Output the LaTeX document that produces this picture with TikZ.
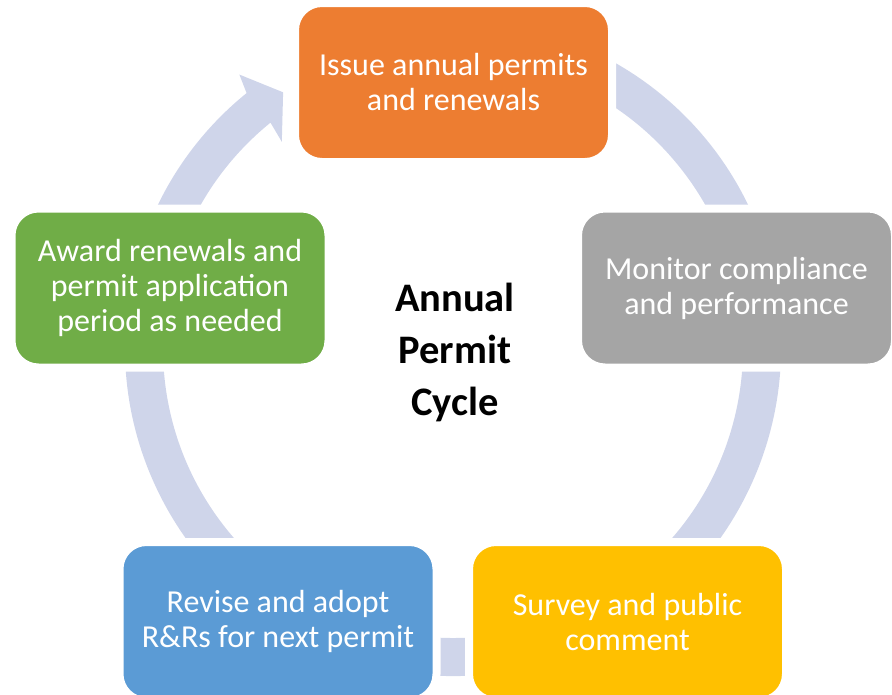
\documentclass[tikz,border=0pt]{standalone}
\usepackage{fontspec}
\setmainfont{Carlito}

\definecolor{ringblue}{RGB}{207,213,234}
\definecolor{issueorange}{RGB}{237,125,49}
\definecolor{monitorgray}{RGB}{165,165,165}
\definecolor{surveyyellow}{RGB}{255,192,0}
\definecolor{reviseblue}{RGB}{91,155,213}
\definecolor{awardgreen}{RGB}{112,173,71}

\begin{document}
\begin{tikzpicture}[x=1pt, y=-1pt,
    stage/.style={rounded corners=27pt, draw=white, line width=8pt,
      minimum width=317pt, minimum height=159pt, inner sep=0pt,
      text=white, align=center, font=\fontsize{32}{35}\selectfont}]
  \useasboundingbox (0,0) rectangle (892,694);
  % ring behind the stages, with the head pointing into the top box
  \fill[ringblue, shift={(453,348)}] (-115:328) arc[start angle=-115, end angle=231, radius=328]
    -- (232:347) -- (236.4:307) -- (230.3:268) -- (231:290)
    arc[start angle=231, end angle=-115, radius=290] -- cycle;
  % stages
  \node[stage, fill=issueorange] (issue) at (453.5,82.5) {Issue annual permits\\and renewals};
  \node[stage, fill=monitorgray] (monitor) at (736.5,288) {Monitor compliance\\and performance};
  \node[stage, fill=surveyyellow] (survey) at (627.5,621.5) {Survey and public\\comment};
  \node[stage, fill=reviseblue] (revise) at (278,621.5) {Revise and adopt\\R\&Rs for next permit};
  \node[stage, fill=awardgreen] (award) at (170,288) {Award renewals and\\permit application\\period as needed};
  \node[font=\bfseries\fontsize{40.5}{52}\selectfont, align=center] (title) at (455,352) {Annual\\Permit\\Cycle};
\end{tikzpicture}
\end{document}
